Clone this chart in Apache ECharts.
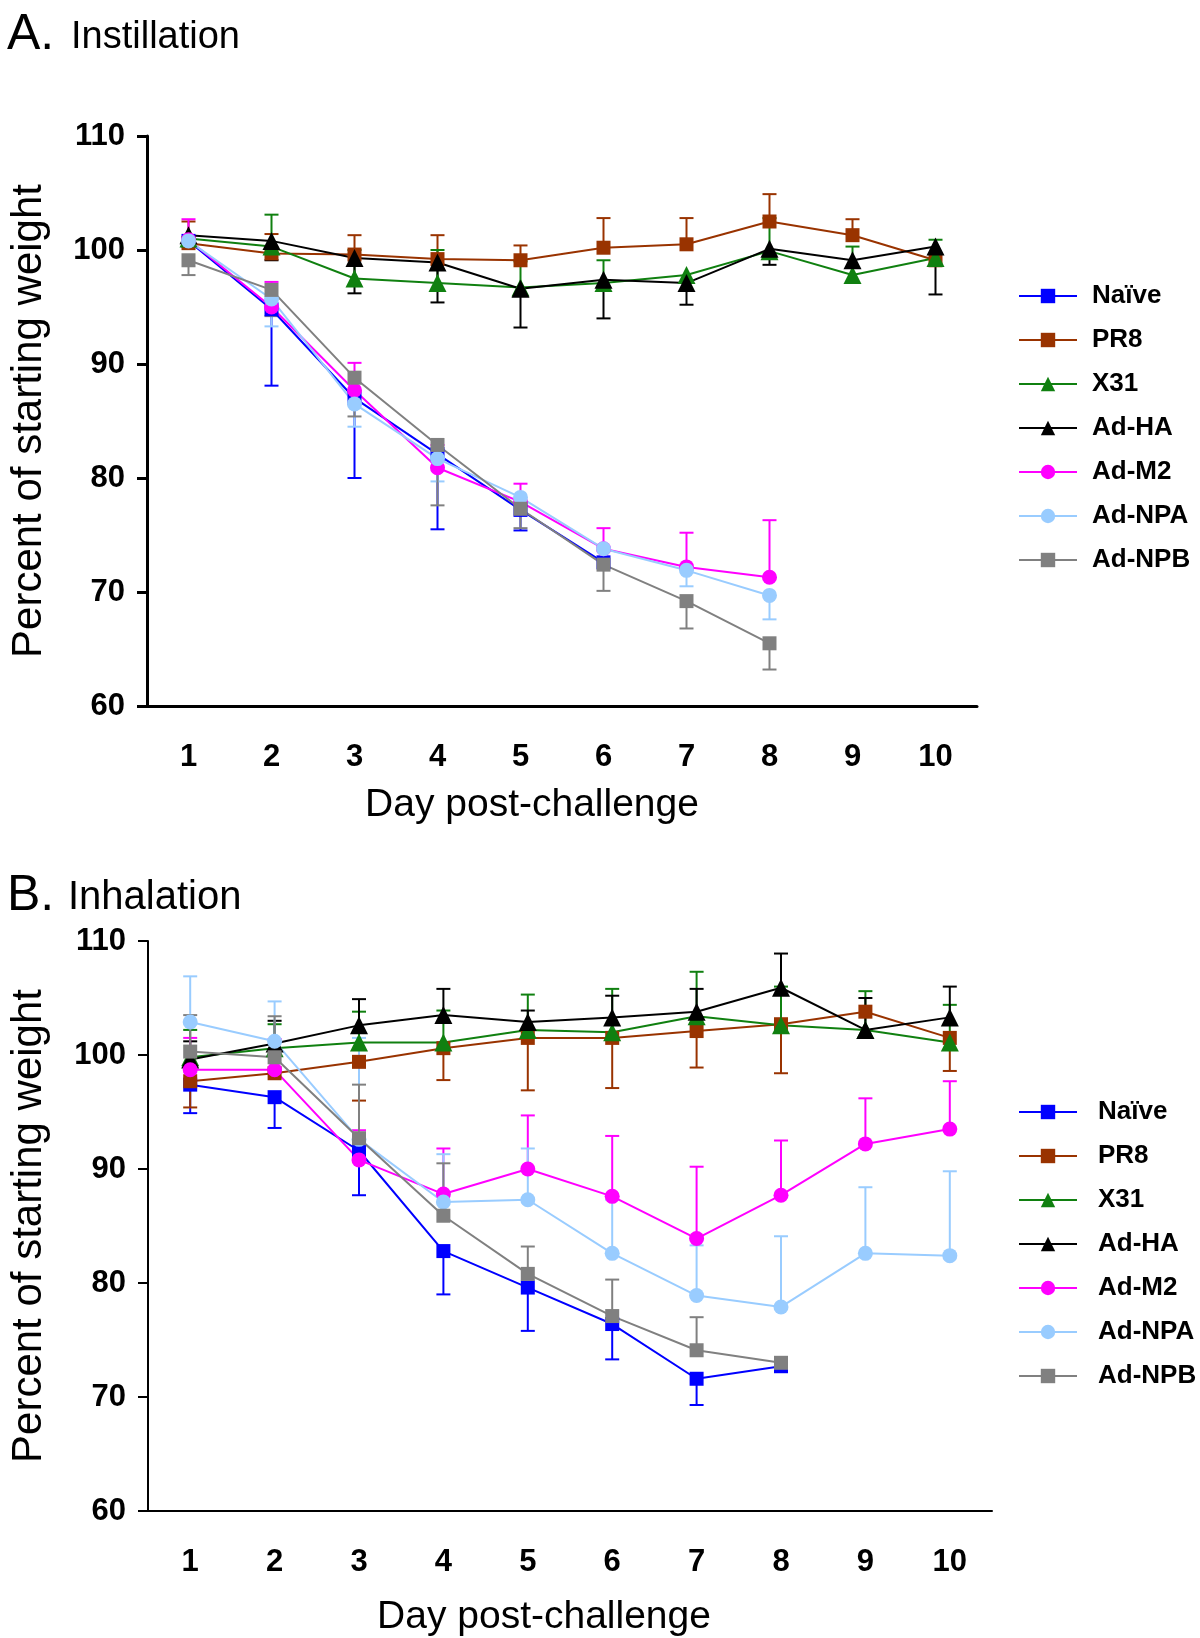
<!DOCTYPE html>
<html style="height: 100%">
<head>
    <meta charset="UTF-8">
    <title>Weight loss</title>
    <script type="text/javascript" src="https://cdn.jsdelivr.net/npm/echarts/dist/echarts.min.js"></script>
</head>
<body style="height: 100%; margin: 0; background: #fff">
    <div id="container" style="width: 1200px; height: 1638px"></div>
<script>
    // categories and groups
    var days = ['1', '2', '3', '4', '5', '6', '7', '8', '9', '10'];
    var groups = ['Naïve', 'PR8', 'X31', 'Ad-HA', 'Ad-M2', 'Ad-NPA', 'Ad-NPB'];
    var colors = ['#0000ff', '#993300', '#108010', '#000000', '#ff00ff', '#99ccff', '#808080'];
    var symbols = ['rect', 'rect', 'triangle', 'triangle', 'circle', 'circle', 'rect'];

    // A. Instillation - means (percent of starting weight)
    var instNaive = [100.8, 94.8, 87.0, 82.1, 77.2, 72.6, null, null, null, null];
    var instPR8   = [100.6, 99.7, 99.6, 99.2, 99.1, 100.2, 100.5, 102.5, 101.3, 99.1];
    var instX31   = [101.0, 100.3, 97.5, 97.1, 96.7, 97.1, 97.8, 99.9, 97.8, 99.3];
    var instAdHA  = [101.3, 100.8, 99.3, 98.9, 96.6, 97.4, 97.1, 100.1, 99.1, 100.3];
    var instAdM2  = [100.9, 95.0, 87.7, 80.9, 77.9, 73.8, 72.2, 71.3, null, null];
    var instAdNPA = [100.8, 95.7, 86.5, 81.7, 78.3, 73.8, 71.9, 69.7, null, null];
    var instAdNPB = [99.1, 96.5, 88.8, 82.9, 77.3, 72.4, 69.2, 65.5, null, null];

    // A. Instillation - end of error bar (null = none drawn)
    var instNaiveErr = [null, 88.1, 80.0, 75.5, 75.4, null, null, null, null, null];
    var instPR8Err   = [102.5, 101.4, 101.3, 101.3, 100.4, 102.8, 102.8, 104.9, 102.7, null];
    var instX31Err   = [null, 103.1, 100.0, 100.0, 99.0, 99.1, null, 102.8, 100.3, 100.9];
    var instAdHAErr  = [null, 99.1, 96.2, 95.4, 93.2, 94.0, 95.2, 98.7, null, 96.1];
    var instAdM2Err  = [102.7, 97.2, 90.1, 82.9, 79.5, 75.6, 75.2, 76.3, null, null];
    var instAdNPAErr = [null, 93.3, 84.5, 79.7, null, null, 70.5, 67.6, null, null];
    var instAdNPBErr = [97.8, 94.2, 85.4, 77.6, 75.6, 70.1, 66.8, 63.2, null, null];

    // B. Inhalation - means
    var inhNaive = [97.4, 96.3, 91.6, 82.8, 79.6, 76.4, 71.6, 72.7, null, null];
    var inhPR8   = [97.7, 98.4, 99.4, 100.6, 101.5, 101.5, 102.1, 102.7, 103.8, 101.5];
    var inhX31   = [99.8, 100.6, 101.1, 101.1, 102.2, 102.0, 103.4, 102.6, 102.2, 101.1];
    var inhAdHA  = [99.6, 101.0, 102.6, 103.5, 102.9, 103.3, 103.8, 105.9, 102.2, 103.3];
    var inhAdM2  = [98.7, 98.7, 90.8, 87.8, 90.0, 87.6, 83.9, 87.7, 92.2, 93.5];
    var inhAdNPA = [102.9, 101.2, 92.6, 87.1, 87.3, 82.6, 78.9, 77.9, 82.6, 82.4];
    var inhAdNPB = [100.3, 99.8, 92.7, 85.9, 80.8, 77.1, 74.1, 73.0, null, null];

    // B. Inhalation - end of error bar
    var inhNaiveErr = [94.9, 93.6, 87.7, 79.0, 75.8, 73.3, 69.3, null, null, null];
    var inhPR8Err   = [95.4, null, 96.0, 97.8, 96.9, 97.1, 98.9, 98.4, null, 98.6];
    var inhX31Err   = [102.2, 102.7, 103.8, 103.9, 105.3, 105.8, 107.3, 106.0, 105.6, 104.4];
    var inhAdHAErr  = [101.2, 103.0, 104.9, 105.8, 103.9, 105.2, 105.8, 108.9, 105.0, 106.0];
    var inhAdM2Err  = [101.5, 101.4, 93.4, 91.8, 94.7, 92.9, 90.2, 92.5, 96.2, 97.7];
    var inhAdNPAErr = [106.9, 104.7, 101.5, 91.3, 91.8, 87.3, 83.3, 84.1, 88.4, 89.8];
    var inhAdNPBErr = [103.5, 103.4, 97.4, 90.5, 83.2, 80.3, 77.0, null, null, null];

    var instMeans = [instNaive, instPR8, instX31, instAdHA, instAdM2, instAdNPA, instAdNPB];
    var instErrs = [instNaiveErr, instPR8Err, instX31Err, instAdHAErr, instAdM2Err, instAdNPAErr, instAdNPBErr];
    var inhMeans = [inhNaive, inhPR8, inhX31, inhAdHA, inhAdM2, inhAdNPA, inhAdNPB];
    var inhErrs = [inhNaiveErr, inhPR8Err, inhX31Err, inhAdHAErr, inhAdM2Err, inhAdNPAErr, inhAdNPBErr];

    var FONT = 'Liberation Sans, Arial, Helvetica, sans-serif';

    function renderErr(params, api) {
        var p0 = api.coord([api.value(0), api.value(1)]);
        var p1 = api.coord([api.value(0), api.value(2)]);
        var c = api.visual('color');
        return {
            type: 'group',
            children: [
                {type: 'line', shape: {x1: p0[0], y1: p0[1], x2: p1[0], y2: p1[1]}, style: {stroke: c, lineWidth: 2}},
                {type: 'line', shape: {x1: p1[0] - 7, y1: p1[1], x2: p1[0] + 7, y2: p1[1]}, style: {stroke: c, lineWidth: 2}}
            ]
        };
    }

    function symSize(s) {
        return s === 'triangle' ? 18 : (s === 'circle' ? 15 : 14);
    }

    function buildSeries(means, errs, idx) {
        var out = [];
        // lines first so legend picks them up
        for (var g = 0; g < groups.length; g++) {
            out.push({
                name: groups[g],
                type: 'line',
                xAxisIndex: idx,
                yAxisIndex: idx,
                data: means[g].map(function (v) { return v == null ? '-' : v; }),
                symbol: symbols[g],
                symbolSize: symSize(symbols[g]),
                showAllSymbol: true,
                color: colors[g],
                lineStyle: {width: 2, color: colors[g]},
                itemStyle: {color: colors[g]},
                z: 3,
                animation: false
            });
        }
        for (var g2 = 0; g2 < groups.length; g2++) {
            var d = [];
            for (var i = 0; i < days.length; i++) {
                if (errs[g2][i] != null && means[g2][i] != null) {
                    d.push([i, means[g2][i], errs[g2][i]]);
                }
            }
            out.push({
                name: groups[g2],
                type: 'custom',
                xAxisIndex: idx,
                yAxisIndex: idx,
                renderItem: renderErr,
                encode: {x: 0, y: [1, 2]},
                itemStyle: {color: colors[g2]},
                data: d,
                z: 2,
                animation: false
            });
        }
        return out;
    }

    function xAxisOpt(idx, lw, nameGap, shift) {
        return {
            type: 'category',
            gridIndex: idx,
            data: days,
            boundaryGap: true,
            name: 'Day post-challenge',
            nameLocation: 'middle',
            nameGap: nameGap,
            nameTextStyle: {fontSize: 39, color: '#000', fontFamily: FONT, padding: [0, shift, 0, 0]},
            axisLine: {lineStyle: {color: '#000', width: lw}},
            axisTick: {length: 10, lineStyle: {color: '#000', width: lw}},
            axisLabel: {fontSize: 31, fontWeight: 'bold', color: '#000', margin: 36, fontFamily: FONT},
            splitLine: {show: false}
        };
    }

    function yAxisOpt(idx, lw, nameGap, margin) {
        return {
            type: 'value',
            gridIndex: idx,
            min: 60,
            max: 110,
            interval: 10,
            name: 'Percent of starting weight',
            nameLocation: 'middle',
            nameGap: nameGap,
            nameTextStyle: {fontSize: 42, color: '#000', fontFamily: FONT},
            axisLine: {show: true, lineStyle: {color: '#000', width: lw}},
            axisTick: {show: true, length: 10, lineStyle: {color: '#000', width: lw}},
            axisLabel: {fontSize: 31, fontWeight: 'bold', color: '#000', margin: margin, fontFamily: FONT},
            splitLine: {show: false}
        };
    }

    function legendOpt(top, textPad) {
        return {
            orient: 'vertical',
            left: 1018,
            top: top,
            data: groups,
            itemWidth: 58,
            itemHeight: 18,
            itemGap: 18,
            padding: 0,
            selectedMode: false,
            textStyle: {fontSize: 26, fontWeight: 'bold', color: '#000', fontFamily: FONT,
                        lineHeight: 26, padding: [0, 0, 0, textPad]}
        };
    }

    var chart = echarts.init(document.getElementById('container'));
    var option = {
        backgroundColor: '#fff',
        animation: false,
        title: [
            {text: 'A.', left: 2, top: 5, textStyle: {fontSize: 50, fontWeight: 'normal', color: '#000', fontFamily: FONT}},
            {text: 'Instillation', left: 66, top: 14, textStyle: {fontSize: 38, fontWeight: 'normal', color: '#000', fontFamily: FONT}},
            {text: 'B.', left: 2, top: 866, textStyle: {fontSize: 50, fontWeight: 'normal', color: '#000', fontFamily: FONT}},
            {text: 'Inhalation', left: 63, top: 873, textStyle: {fontSize: 40, fontWeight: 'normal', color: '#000', fontFamily: FONT}}
        ],
        legend: [legendOpt(283, 10), legendOpt(1099, 16)],
        grid: [
            {left: 140, top: 136, width: 837, height: 570},
            {left: 142, top: 941, width: 850, height: 573}
        ],
        xAxis: [xAxisOpt(0, 3, 80, 60), xAxisOpt(1, 2, 87, 52)],
        yAxis: [yAxisOpt(0, 3, 97, 22), yAxisOpt(1, 2, 98, 22)],
        series: buildSeries(instMeans, instErrs, 0).concat(buildSeries(inhMeans, inhErrs, 1))
    };
    chart.setOption(option);
</script>
</body>
</html>
